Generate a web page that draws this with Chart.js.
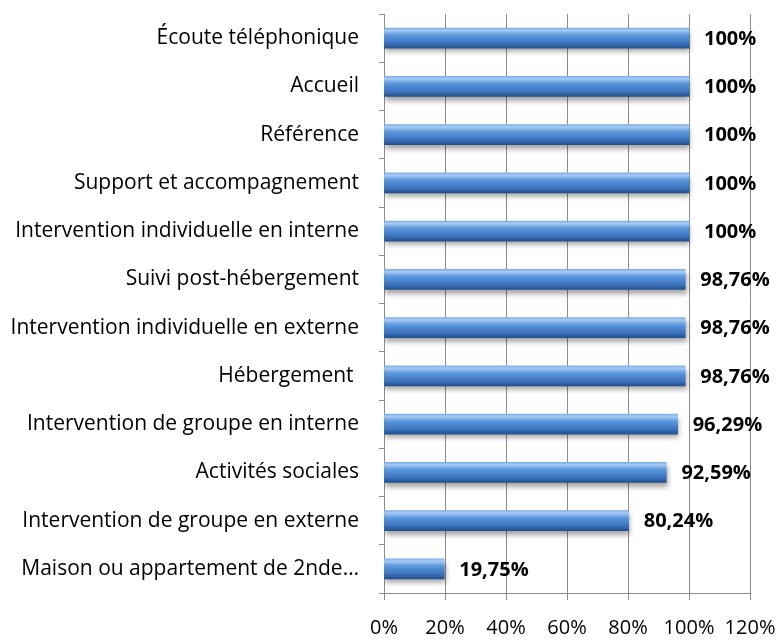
<!DOCTYPE html>
<html><head><meta charset="utf-8">
<script src="https://cdn.jsdelivr.net/npm/chart.js@4"></script>
<style>html,body{margin:0;padding:0;background:#fff}#w{width:778px;height:642px}</style>
</head><body><div id="w"><canvas id="c"></canvas></div>
<script>
const categories = ["Écoute téléphonique","Accueil","Référence","Support et accompagnement","Intervention individuelle en interne","Suivi post-hébergement","Intervention individuelle en externe","Hébergement ","Intervention de groupe en interne","Activités sociales","Intervention de groupe en externe","Maison ou appartement de 2nde…"];
const values = [100,100,100,100,100,98.76,98.76,98.76,96.29,92.59,80.24,19.75];
const xTicks = [0,20,40,60,80,100,120];

const FONT = "'Open Sans', sans-serif";
function fmt(v){ return Number.isInteger(v) ? v + "%" : v.toFixed(2).replace(".", ",") + "%"; }

function barGradient(ctx){
  const chart = ctx.chart;
  const ys = chart.scales.y;
  if (!ys || ctx.dataIndex === undefined) return "#4a86d0";
  const y = ys.getPixelForValue(ctx.dataIndex);
  if (!isFinite(y)) return "#4a86d0";
  const g = chart.ctx.createLinearGradient(0, y - 10, 0, y + 10);
  g.addColorStop(0, "#7eafe8");
  g.addColorStop(0.12, "#a8cbf3");
  g.addColorStop(0.35, "#5b98de");
  g.addColorStop(0.75, "#3c74bd");
  g.addColorStop(1, "#23508c");
  return g;
}

const shadowPlugin = {
  id: "shadow",
  beforeDatasetDraw(chart){ const c = chart.ctx; c.save(); c.shadowColor = "rgba(0,0,0,0.35)"; c.shadowBlur = 5; c.shadowOffsetY = 4; c.shadowOffsetX = 1; },
  afterDatasetDraw(chart){ chart.ctx.restore(); }
};

const labelPlugin = {
  id: "valueLabels",
  afterDatasetsDraw(chart){
    const c = chart.ctx;
    const meta = chart.getDatasetMeta(0);
    c.save();
    c.font = "bold 20px " + FONT;
    c.fillStyle = "#000";
    c.textAlign = "left";
    c.textBaseline = "middle";
    meta.data.forEach((el, i) => {
      c.fillText(fmt(values[i]), el.x + 15, el.y + 1);
    });
    c.restore();
  }
};

function zeroPad(s){ s.paddingTop = 0; s.paddingBottom = 0; s.paddingLeft = 0; s.paddingRight = 0; }

new Chart(document.getElementById("c"), {
  type: "bar",
  data: { labels: categories, datasets: [{ data: values, backgroundColor: barGradient, borderWidth: 0, barThickness: 20 }] },
  options: {
    indexAxis: "y",
    responsive: true,
    maintainAspectRatio: false,
    animation: false,
    layout: { padding: { top: 14, right: 28, left: 0, bottom: 0 } },
    plugins: { legend: { display: false }, tooltip: { enabled: false } },
    scales: {
      x: {
        min: 0, max: 120,
        afterBuildTicks(s){ s.ticks = xTicks.map(v => ({ value: v })); },
        afterFit(s){ s.height = 49; zeroPad(s); },
        ticks: { callback: v => v + "%", color: "#000", font: { family: FONT, size: 20 }, padding: 16, maxRotation: 0 },
        grid: { color: "#8c8c8c", lineWidth: 1, tickLength: 7, drawOnChartArea: true },
        border: { color: "#8c8c8c", width: 1 }
      },
      y: {
        afterFit(s){ s.width = 384; zeroPad(s); },
        ticks: { color: "#000", font: { family: FONT, size: 21 }, padding: 20, autoSkip: false },
        grid: { color: "#8c8c8c", drawOnChartArea: false, drawTicks: true, tickLength: 5, offset: true },
        border: { color: "#8c8c8c", width: 1 }
      }
    }
  },
  plugins: [shadowPlugin, labelPlugin]
});
</script></body></html>
